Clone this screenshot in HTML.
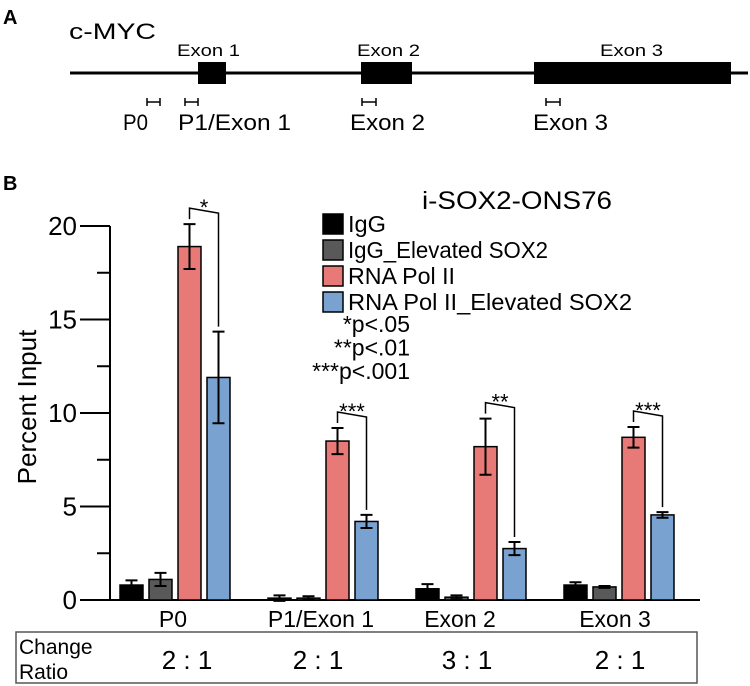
<!DOCTYPE html>
<html><head><meta charset="utf-8">
<style>
body{margin:0;background:#fff;}
svg{display:block;font-family:"Liberation Sans",sans-serif;}
</style></head>
<body>
<svg id="fig" width="750" height="686" viewBox="0 0 750 686">
<g>
  <text x="3" y="24" font-size="20" font-weight="bold">A</text>
  <text x="69" y="39" font-size="22" textLength="87" lengthAdjust="spacingAndGlyphs">c-MYC</text>
  <line x1="70" y1="73" x2="748" y2="73" stroke="#000" stroke-width="3"/>
  <rect x="198" y="62" width="28" height="22" fill="#000"/>
  <rect x="361" y="62" width="51" height="22" fill="#000"/>
  <rect x="534" y="62" width="197" height="22" fill="#000"/>
  <text x="177" y="56" font-size="17" textLength="63" lengthAdjust="spacingAndGlyphs">Exon 1</text>
  <text x="357" y="56" font-size="17" textLength="63" lengthAdjust="spacingAndGlyphs">Exon 2</text>
  <text x="600" y="56" font-size="17" textLength="63" lengthAdjust="spacingAndGlyphs">Exon 3</text>
  <g stroke="#000" stroke-width="1.5" fill="none">
    <path d="M147 98V106M147 102H160M160 98V106"/>
    <path d="M185 98V106M185 102H198M198 98V106"/>
    <path d="M362 98V106M362 102H376M376 98V106"/>
    <path d="M546 98V106M546 102H560M560 98V106"/>
  </g>
  <text x="123" y="130" font-size="22" textLength="25" lengthAdjust="spacingAndGlyphs">P0</text>
  <text x="178" y="130" font-size="22" textLength="113" lengthAdjust="spacingAndGlyphs">P1/Exon 1</text>
  <text x="350" y="130" font-size="22" textLength="75" lengthAdjust="spacingAndGlyphs">Exon 2</text>
  <text x="533" y="130" font-size="22" textLength="75" lengthAdjust="spacingAndGlyphs">Exon 3</text>
</g>
<text x="3" y="190" font-size="20" font-weight="bold">B</text>
<g id="chart"></g>
</svg>
<script>
const categories = ["P0","P1/Exon 1","Exon 2","Exon 3"];
const seriesNames = ["IgG","IgG_Elevated SOX2","RNA Pol II","RNA Pol II_Elevated SOX2"];
const igg = [0.8,0.1,0.6,0.8];
const iggErr = [0.25,0.15,0.25,0.15];
const iggElev = [1.1,0.1,0.15,0.7];
const iggElevErr = [0.35,0.1,0.1,0.05];
const pol = [18.9,8.5,8.2,8.7];
const polErr = [1.2,0.7,1.5,0.55];
const polElev = [11.9,4.2,2.75,4.55];
const polElevErr = [2.45,0.35,0.35,0.15];
const sig = ["*","***","**","***"];
const ratios = ["2 : 1","2 : 1","3 : 1","2 : 1"];
const yTicks = [0,5,10,15,20];
const yMinor = [2.5,7.5,12.5,17.5];

const NS="http://www.w3.org/2000/svg";
const g=document.getElementById('chart');
function mk(t,a,parent){const e=document.createElementNS(NS,t);for(const k in a)e.setAttribute(k,a[k]);(parent||g).appendChild(e);return e;}
const y0=600,k=18.7,axX=110;
const yS=v=>y0-v*k;
const groupX=i=>120+148*i;
const barW=23,step=29;
const colors=["#000000","#595959","#e77a77","#7aa2d0"];
const vals=[igg,iggElev,pol,polElev], errs=[iggErr,iggElevErr,polErr,polElevErr];

let e=mk('line',{x1:axX,y1:yS(20),x2:axX,y2:y0,stroke:'#000','stroke-width':2});


e=mk('line',{x1:80,y1:y0,x2:700,y2:y0,stroke:'#000','stroke-width':2});


yTicks.forEach(v=>{
  e=mk('line',{x1:80,y1:yS(v),x2:axX,y2:yS(v),stroke:'#000','stroke-width':2});
  
  
  e=mk('text',{x:77,y:yS(v)+9,'font-size':26,'text-anchor':'end'});e.textContent=v;
  
  
});
yMinor.forEach(v=>{
  e=mk('line',{x1:97,y1:yS(v),x2:axX,y2:yS(v),stroke:'#000','stroke-width':2});
  
  
});
e=mk('text',{x:0,y:0,'font-size':26,'text-anchor':'middle',transform:'translate(36,407) rotate(-90)'});e.textContent='Percent Input';



categories.forEach((c,i)=>{
  for(let s=0;s<4;s++){
    const x=groupX(i)+s*step, v=vals[s][i], er=errs[s][i], cx=x+barW/2;
    e=mk('rect',{x:x,y:yS(v),width:barW,height:y0-yS(v),fill:colors[s],stroke:'#000','stroke-width':1.5});
    
    
    e=mk('path',{d:`M${cx} ${yS(v-er)}V${yS(v+er)}M${cx-6} ${yS(v+er)}H${cx+6}M${cx-6} ${yS(v-er)}H${cx+6}`,stroke:'#000','stroke-width':2,fill:'none'});
    
    
  }
  const lx=groupX(i)+2*step+barW/2, rx=groupX(i)+3*step+barW/2;
  const lt=yS(pol[i]+polErr[i]), rt=yS(polElev[i]+polElevErr[i]);
  const top=lt-16;
  e=mk('path',{d:`M${lx} ${lt-5}V${top}L${rx} ${top+5}V${rt-5}`,stroke:'#000','stroke-width':1.5,fill:'none'});
  
  
  e=mk('text',{x:(lx+rx)/2,y:top+7,'font-size':22,'text-anchor':'middle'});e.textContent=sig[i];
  
  
  const lblX=[173,321,460,615][i];
  e=mk('text',{x:lblX,y:627,'font-size':23,'text-anchor':'middle'});e.textContent=c;
  
  
  const rX=[187,318,467,620][i];
  e=mk('text',{x:rX,y:669,'font-size':26,'text-anchor':'middle'});e.textContent=ratios[i];
  
  
});

e=mk('text',{x:422,y:209,'font-size':25,textLength:190,lengthAdjust:'spacingAndGlyphs'});e.textContent='i-SOX2-ONS76';


const legendLens=[38,200,107,284];
seriesNames.forEach((n,s)=>{
  const cy=224+26*s;
  e=mk('rect',{x:323,y:cy-10,width:20,height:20,fill:colors[s],stroke:'#000','stroke-width':1.5});
  
  
  e=mk('text',{x:348,y:cy+8,'font-size':23,textLength:legendLens[s],lengthAdjust:'spacingAndGlyphs'});e.textContent=n;
  
  
});
["*p<.05","**p<.01","***p<.001"].forEach((t,j)=>{
  e=mk('text',{x:410,y:332+23.5*j,'font-size':23,'text-anchor':'end'});e.textContent=t;
  
  
});

e=mk('rect',{x:16,y:632,width:681,height:51,fill:'none',stroke:'#555','stroke-width':1.5});


e=mk('text',{x:19,y:654,'font-size':21});e.textContent='Change';


e=mk('text',{x:19,y:679,'font-size':21});e.textContent='Ratio';


</script>
</body></html>
